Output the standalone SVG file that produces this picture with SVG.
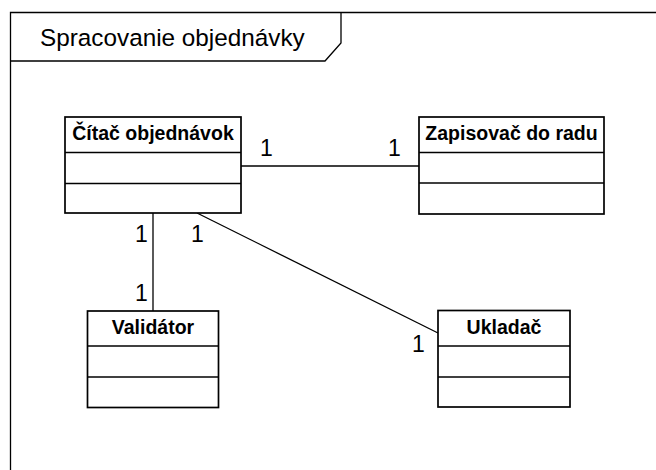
<svg xmlns="http://www.w3.org/2000/svg" width="656" height="470" viewBox="0 0 656 470">
  <style>
    .frame { fill: none; stroke: #000; stroke-width: 1.3; }
    .box { fill: #fff; stroke: #000; stroke-width: 1.7; }
    .div { stroke: #000; stroke-width: 1.7; }
    .conn { fill: none; stroke: #000; stroke-width: 1.3; }
    .title { font-family: "Liberation Sans", Arial, sans-serif; font-size: 24.3px; fill: #000; }
    .name { font-family: "Liberation Sans", Arial, sans-serif; font-size: 19.5px; font-weight: bold; fill: #000; text-anchor: middle; }
    .mult { font-family: "Liberation Sans", Arial, sans-serif; font-size: 23px; fill: #000; }
  </style>
  <rect width="656" height="470" fill="#fff"/>

  <!-- package frame with name tab -->
  <g id="frame">
    <path class="frame" d="M656,12.5 H10.5 V470"/>
    <path class="frame" d="M10.5,61 H325 L341,43 V12.5"/>
    <text class="title" x="40" y="46">Spracovanie objednávky</text>
  </g>

  <!-- associations -->
  <g id="connectors">
    <line class="conn" x1="241" y1="166" x2="419" y2="166"/>
    <line class="conn" x1="153" y1="213" x2="153" y2="311"/>
    <line class="conn" x1="197" y1="213" x2="438" y2="333"/>
    <text class="mult" x="260" y="156">1</text>
    <text class="mult" x="388" y="156">1</text>
    <text class="mult" x="135" y="242">1</text>
    <text class="mult" x="191" y="242">1</text>
    <text class="mult" x="135" y="301">1</text>
    <text class="mult" x="412" y="352">1</text>
  </g>

  <g id="citac">
    <rect class="box" x="65" y="117" width="176" height="96"/>
    <line class="div" x1="65" y1="152.5" x2="241" y2="152.5"/>
    <line class="div" x1="65" y1="183.5" x2="241" y2="183.5"/>
    <text class="name" x="153" y="140">Čítač objednávok</text>
  </g>

  <g id="zapisovac">
    <rect class="box" x="419" y="117" width="185" height="97"/>
    <line class="div" x1="419" y1="152.5" x2="604" y2="152.5"/>
    <line class="div" x1="419" y1="183" x2="604" y2="183"/>
    <text class="name" x="511.5" y="140">Zapisovač do radu</text>
  </g>

  <g id="validator">
    <rect class="box" x="87.5" y="311" width="131" height="96.5"/>
    <line class="div" x1="87.5" y1="346" x2="218.5" y2="346"/>
    <line class="div" x1="87.5" y1="377" x2="218.5" y2="377"/>
    <text class="name" x="153" y="334">Validátor</text>
  </g>

  <g id="ukladac">
    <rect class="box" x="438" y="310.5" width="132" height="96.5"/>
    <line class="div" x1="438" y1="346" x2="570" y2="346"/>
    <line class="div" x1="438" y1="377" x2="570" y2="377"/>
    <text class="name" x="504" y="334">Ukladač</text>
  </g>
</svg>
